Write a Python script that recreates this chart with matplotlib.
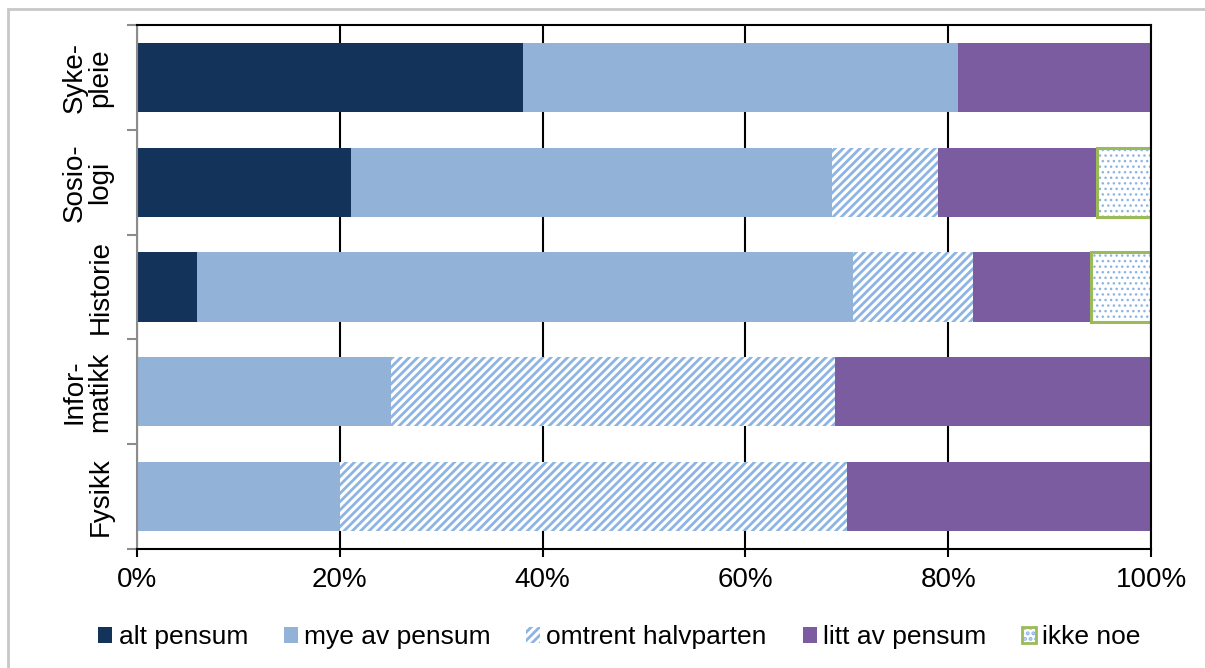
import matplotlib
matplotlib.use("Agg")
import matplotlib.pyplot as plt
import matplotlib.patches as mpatches
from matplotlib.legend_handler import HandlerTuple
import numpy as np

plt.rcParams['font.family'] = ['Liberation Sans', 'DejaVu Sans']
plt.rcParams['hatch.linewidth'] = 2.0

# data (percent of respondents), bottom to top
fag = ["Fysikk", "Infor-\nmatikk", "Historie", "Sosio-\nlogi", "Syke-\npleie"]
alt_pensum = [0, 0, 5.9, 21.1, 38.1]
mye_av_pensum = [20.0, 25.0, 64.7, 47.4, 42.9]
omtrent_halvparten = [50.0, 43.8, 11.8, 10.5, 0]
litt_av_pensum = [30.0, 31.2, 11.7, 15.7, 19.0]
ikke_noe = [0, 0, 5.9, 5.3, 0]

navy = "#14335b"
lightblue = "#93b2d8"
stripe = "#8db4e2"
purple = "#7c5ca0"
green = "#9bbb59"

fig = plt.figure(figsize=(12.05, 6.68), dpi=100)
ax = fig.add_axes([0.1137, 0.1781, 0.8415, 0.7845])

# grey frame around the chart area
fig.patches.append(mpatches.Rectangle((8 / 1205, -0.1), 1.2, 1 - 9 / 668 + 0.1,
                                      transform=fig.transFigure, fill=False,
                                      edgecolor="#c8c8c8", linewidth=2))

y = np.arange(len(fag))
h = 0.66
left = np.zeros(len(fag))

ax.barh(y, alt_pensum, h, left=left, color=navy, linewidth=0, label="alt pensum")
left += alt_pensum
ax.barh(y, mye_av_pensum, h, left=left, color=lightblue, linewidth=0, label="mye av pensum")
left += mye_av_pensum
ax.barh(y, omtrent_halvparten, h, left=left, facecolor="white", edgecolor=stripe,
        hatch="////", linewidth=0, label="omtrent halvparten")
left += omtrent_halvparten
ax.barh(y, litt_av_pensum, h, left=left, color=purple, linewidth=0, label="litt av pensum")
left += litt_av_pensum
ikke = np.array(ikke_noe)
mask = ikke > 0
with plt.rc_context({'hatch.linewidth': 1.0}):
    ax.barh(y[mask], ikke[mask], h, left=left[mask], facecolor="white", edgecolor=stripe,
            hatch="...", linewidth=0)
    dots_handle = mpatches.Patch(facecolor="white", edgecolor=stripe, hatch="...", linewidth=0)
ax.barh(y[mask], ikke[mask], h, left=left[mask], facecolor="none", edgecolor=green,
        linewidth=2.2)

ax.set_xlim(0, 100)
ax.set_ylim(-0.5, len(fag) - 0.5)
ax.set_xticks([0, 20, 40, 60, 80, 100])
ax.set_xticklabels([f"{v}%" for v in [0, 20, 40, 60, 80, 100]])
ax.tick_params(axis="x", length=6, width=1.5, color="black", pad=7, labelsize=20)

ax.set_yticks(y)
ax.set_yticklabels(fag, rotation=90, va="center", ha="right", multialignment="center",
                   linespacing=1.0)
ax.tick_params(axis="y", which="major", length=0, pad=17, labelsize=20)
ax.set_yticks(np.arange(len(fag) + 1) - 0.5, minor=True)
ax.tick_params(axis="y", which="minor", length=7, width=1.5, color="#8c8c8c")

ax.grid(axis="x", color="black", linewidth=1.5)
ax.set_axisbelow(True)
for s in ["top", "right", "bottom"]:
    ax.spines[s].set_color("black")
    ax.spines[s].set_linewidth(1.5)
ax.spines["left"].set_color("#8c8c8c")
ax.spines["left"].set_linewidth(1.5)

# legend
handles = [
    mpatches.Patch(facecolor=navy, linewidth=0),
    mpatches.Patch(facecolor=lightblue, linewidth=0),
    mpatches.Patch(facecolor="white", edgecolor=stripe, hatch="////", linewidth=0),
    mpatches.Patch(facecolor=purple, linewidth=0),
    (dots_handle, mpatches.Patch(facecolor="none", edgecolor=green, linewidth=2)),
]
labels = ["alt pensum", "mye av pensum", "omtrent halvparten", "litt av pensum", "ikke noe"]
fig.legend(handles, labels, loc="center", bbox_to_anchor=(0.514, 0.046), ncol=5,
           frameon=False, fontsize=19, handlelength=0.53, handleheight=0.53,
           handletextpad=0.23, columnspacing=1.36,
           handler_map={tuple: HandlerTuple(ndivide=1, pad=0)})

fig.savefig("out.png", dpi=100)
